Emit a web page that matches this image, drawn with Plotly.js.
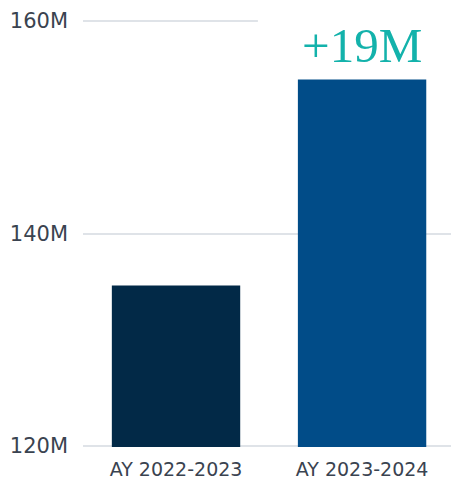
<!DOCTYPE html>
<html>
<head>
<meta charset="utf-8">
<script src="https://cdn.plot.ly/plotly-3.0.1.min.js"></script>
<style>html,body{margin:0;padding:0;background:#fff;}#chart{width:451px;height:480px;}</style>
</head>
<body>
<div id="chart"></div>
<script>
const categories = ["AY 2022-2023", "AY 2023-2024"];
const values = [135100000, 154500000];
const barColors = ["#022947", "#014C88"];
const yTickVals = [120000000, 140000000, 160000000];
const yTickText = ["120M", "140M", "160M"];
const changeLabel = "+19M";

const trace = {
  type: "bar",
  x: categories,
  y: values,
  marker: {color: barColors},
  hoverinfo: "skip"
};

const layout = {
  width: 451,
  height: 480,
  margin: {l: 83, r: 0, t: 20, b: 33},
  paper_bgcolor: "#ffffff",
  plot_bgcolor: "#ffffff",
  bargap: 0.31,
  showlegend: false,
  font: {family: "DejaVu Sans, Verdana, sans-serif", color: "#3a4350"},
  xaxis: {
    range: [-0.5, 1.478],
    showgrid: false,
    zeroline: false,
    showline: false,
    ticks: "",
    tickfont: {size: 19, color: "#3a4350"},
    ticklabelstandoff: 9
  },
  yaxis: {
    range: [119900000, 160100000],
    tickvals: yTickVals,
    ticktext: yTickText,
    showgrid: true,
    gridcolor: "#dfe3e8",
    gridwidth: 2,
    zeroline: false,
    showline: false,
    ticks: "",
    tickfont: {size: 21, color: "#3a4350"},
    ticklabelstandoff: 14
  },
  shapes: [{
    type: "rect",
    layer: "above",
    xref: "x", yref: "y",
    x0: 0.44, x1: 1.7, y0: 158500000, y1: 161000000,
    fillcolor: "#ffffff",
    line: {width: 0}
  }],
  annotations: [{
    x: categories[1],
    y: values[1],
    xref: "x", yref: "y",
    text: changeLabel,
    showarrow: false,
    yanchor: "bottom",
    yshift: 4,
    font: {family: "Liberation Serif, Times New Roman, serif", size: 49, color: "#13B2AB"}
  }]
};

Plotly.newPlot("chart", [trace], layout, {displayModeBar: false, staticPlot: true});
</script>
</body>
</html>
